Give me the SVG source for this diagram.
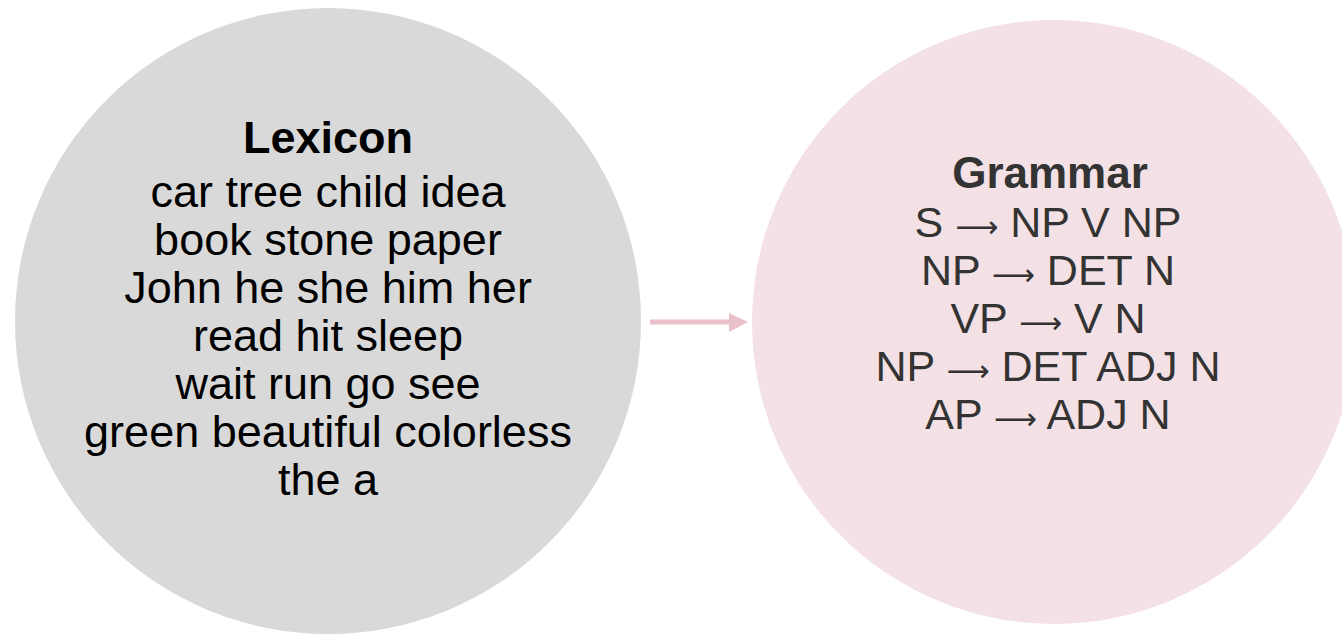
<svg xmlns="http://www.w3.org/2000/svg" width="1342" height="635" viewBox="0 0 1342 635">
  <style>
    .t { font-family: "Liberation Sans", Arial, sans-serif; font-size: 45px; text-anchor: middle; }
    .b { font-weight: bold; }
    .lex { fill: #000000; }
    .gram { fill: #333333; font-size: 43px; }
    .gt { font-size: 44px; }
    .ar { font-family: "DejaVu Sans", sans-serif; font-size: 30px; }
  </style>
  <rect x="0" y="0" width="1342" height="635" fill="#ffffff"/>
  <g id="connectors">
    <line x1="650" y1="322" x2="732" y2="322" stroke="#e8c1ca" stroke-width="5"/>
    <polygon points="729,313 748,322 729,332" fill="#e8c1ca"/>
  </g>
  <g id="lexicon">
    <circle cx="328" cy="321" r="313" fill="#d9d9d9"/>
    <text class="t b lex" x="328" y="153">Lexicon</text>
    <text class="t lex" x="328" y="207">car tree child idea</text>
    <text class="t lex" x="328" y="255">book stone paper</text>
    <text class="t lex" x="328" y="303">John he she him her</text>
    <text class="t lex" x="328" y="351">read hit sleep</text>
    <text class="t lex" x="328" y="399">wait run go see</text>
    <text class="t lex" x="328" y="447">green beautiful colorless</text>
    <text class="t lex" x="328" y="495">the a</text>
  </g>
  <g id="grammar">
    <circle cx="1054" cy="322" r="302" fill="#f4e1e5"/>
    <text class="t b gram gt" x="1050" y="188">Grammar</text>
    <text class="t gram" x="1048" y="237">S <tspan class="ar">⟶</tspan> NP V NP</text>
    <text class="t gram" x="1048" y="285">NP <tspan class="ar">⟶</tspan> DET N</text>
    <text class="t gram" x="1048" y="333">VP <tspan class="ar">⟶</tspan> V N</text>
    <text class="t gram" x="1048" y="381">NP <tspan class="ar">⟶</tspan> DET ADJ N</text>
    <text class="t gram" x="1048" y="429">AP <tspan class="ar">⟶</tspan> ADJ N</text>
  </g>
</svg>
